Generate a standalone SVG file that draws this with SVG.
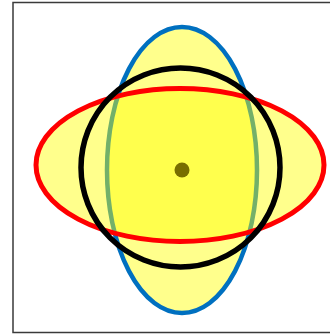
<svg xmlns="http://www.w3.org/2000/svg" width="330" height="336" viewBox="0 0 330 336">
<style>
.shape{fill:#FFFF00;fill-opacity:0.45}
</style>
<rect x="0" y="0" width="330" height="336" fill="#ffffff"/>
<rect id="frame" x="13" y="2.5" width="318" height="330" fill="none" stroke="#3a3a3a" stroke-width="1.5"/>
<g id="blue-ellipse"><ellipse class="shape" cx="182" cy="170" rx="75" ry="143" stroke="#0070C0" stroke-width="4.5"/></g>
<g id="red-ellipse"><ellipse class="shape" cx="180" cy="165" rx="144" ry="76.5" stroke="#FF0000" stroke-width="5" stroke-opacity="1"/></g>
<g id="circle"><circle cx="180.5" cy="167.5" r="99.5" fill="none" stroke="#000000" stroke-width="5.5"/></g>
<g id="center"><circle cx="182" cy="170" r="7.5" fill="#786E00"/></g>
</svg>
